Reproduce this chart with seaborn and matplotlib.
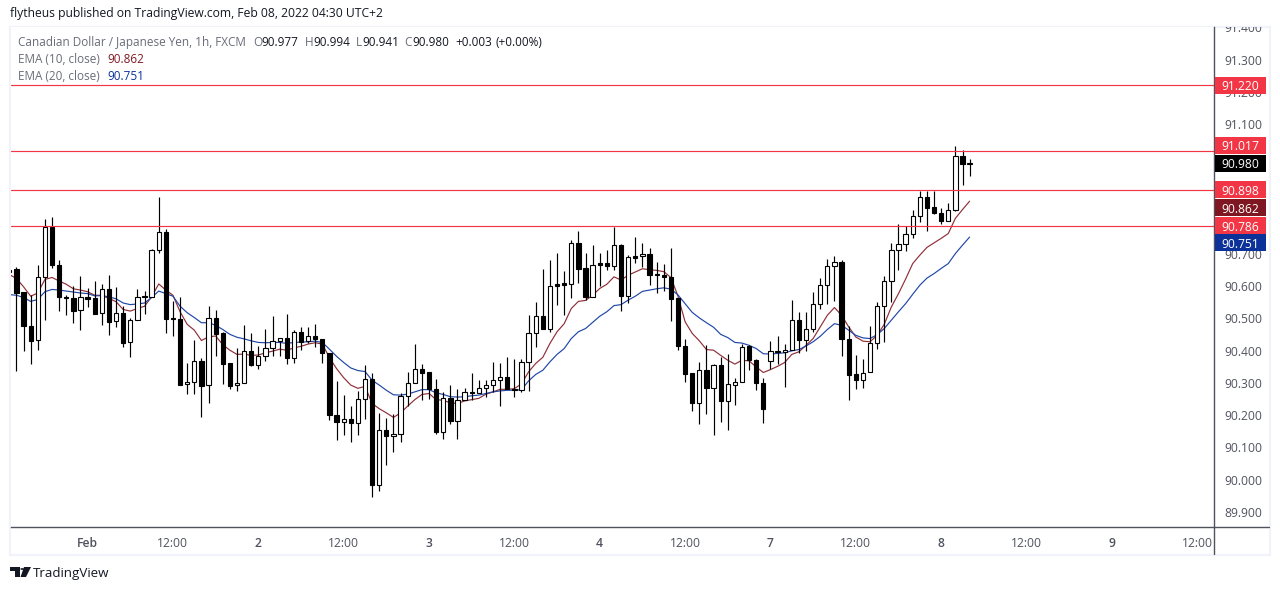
import matplotlib
matplotlib.use("Agg")
import matplotlib.pyplot as plt
import numpy as np
import pandas as pd
import seaborn as sns
from matplotlib.patches import Polygon, Rectangle
from matplotlib.transforms import Bbox, blended_transform_factory

# hourly candles, bar 0 is the "Feb" tick
first_bar = -11

opens = [
    90.643, 90.651, 90.580, 90.477, 90.431, 90.626, 90.783, 90.666, 90.567, 90.564, 90.524,
    90.567, 90.561, 90.515, 90.589, 90.490, 90.515, 90.425, 90.493, 90.568, 90.567, 90.710,
    90.768, 90.500, 90.499, 90.295, 90.304, 90.369, 90.292, 90.502, 90.454, 90.360, 90.292,
    90.301, 90.397, 90.356, 90.384, 90.409, 90.428, 90.440, 90.378, 90.456, 90.428, 90.446,
    90.437, 90.391, 90.202, 90.180, 90.189, 90.177, 90.251, 90.313, 89.985, 90.155, 90.137,
    90.143, 90.258, 90.301, 90.344, 90.332, 90.282, 90.149, 90.254, 90.182, 90.248, 90.273,
    90.270, 90.285, 90.292, 90.309, 90.319, 90.282, 90.278, 90.363, 90.453, 90.508, 90.467,
    90.605, 90.608, 90.607, 90.734, 90.654, 90.566, 90.670, 90.670, 90.663, 90.728, 90.569,
    90.691, 90.691, 90.700, 90.636, 90.635, 90.629, 90.561, 90.415, 90.329, 90.239, 90.341,
    90.285, 90.354, 90.245, 90.294, 90.303, 90.413, 90.372, 90.301, 90.369, 90.398, 90.396,
    90.403, 90.493, 90.431, 90.468, 90.545, 90.604, 90.660, 90.675, 90.437, 90.326, 90.309,
    90.332, 90.422, 90.539, 90.614, 90.710, 90.731, 90.762, 90.815, 90.874, 90.843, 90.827,
    90.802, 90.836, 91.001, 90.977,
]
highs = [
    90.655, 90.657, 90.580, 90.571, 90.664, 90.806, 90.812, 90.680, 90.571, 90.601, 90.630,
    90.593, 90.614, 90.605, 90.633, 90.595, 90.537, 90.502, 90.589, 90.583, 90.713, 90.874,
    90.775, 90.552, 90.566, 90.360, 90.431, 90.378, 90.539, 90.524, 90.456, 90.360, 90.409,
    90.478, 90.454, 90.415, 90.468, 90.506, 90.440, 90.512, 90.463, 90.474, 90.474, 90.481,
    90.437, 90.393, 90.305, 90.262, 90.228, 90.274, 90.355, 90.329, 90.208, 90.190, 90.205,
    90.267, 90.332, 90.419, 90.357, 90.332, 90.313, 90.272, 90.293, 90.280, 90.285, 90.329,
    90.308, 90.308, 90.363, 90.360, 90.379, 90.375, 90.375, 90.509, 90.549, 90.651, 90.680,
    90.701, 90.646, 90.742, 90.769, 90.701, 90.726, 90.701, 90.711, 90.783, 90.729, 90.695,
    90.750, 90.732, 90.716, 90.675, 90.667, 90.717, 90.564, 90.437, 90.331, 90.363, 90.416,
    90.358, 90.379, 90.388, 90.316, 90.420, 90.416, 90.373, 90.316, 90.429, 90.444, 90.420,
    90.556, 90.518, 90.518, 90.580, 90.623, 90.683, 90.692, 90.679, 90.475, 90.386, 90.375,
    90.475, 90.549, 90.630, 90.732, 90.791, 90.785, 90.834, 90.894, 90.894, 90.894, 90.840,
    90.855, 91.033, 91.020, 90.994,
]
lows = [
    90.640, 90.337, 90.399, 90.359, 90.401, 90.495, 90.656, 90.523, 90.510, 90.486, 90.464,
    90.534, 90.512, 90.479, 90.448, 90.473, 90.411, 90.380, 90.493, 90.513, 90.566, 90.702,
    90.455, 90.445, 90.294, 90.266, 90.266, 90.195, 90.238, 90.383, 90.297, 90.281, 90.275,
    90.298, 90.352, 90.342, 90.368, 90.384, 90.383, 90.359, 90.362, 90.402, 90.422, 90.411,
    90.362, 90.184, 90.123, 90.139, 90.117, 90.139, 90.188, 89.947, 89.965, 90.046, 90.086,
    90.117, 90.228, 90.298, 90.248, 90.250, 90.142, 90.126, 90.173, 90.126, 90.246, 90.246,
    90.267, 90.257, 90.271, 90.229, 90.280, 90.257, 90.272, 90.274, 90.411, 90.466, 90.458,
    90.540, 90.509, 90.563, 90.609, 90.556, 90.566, 90.599, 90.649, 90.649, 90.523, 90.548,
    90.671, 90.657, 90.603, 90.578, 90.583, 90.492, 90.403, 90.303, 90.213, 90.174, 90.204,
    90.138, 90.179, 90.155, 90.231, 90.303, 90.339, 90.277, 90.176, 90.344, 90.358, 90.287,
    90.403, 90.393, 90.399, 90.458, 90.528, 90.543, 90.554, 90.383, 90.248, 90.280, 90.284,
    90.332, 90.404, 90.427, 90.550, 90.649, 90.707, 90.749, 90.798, 90.770, 90.822, 90.793,
    90.801, 90.832, 90.913, 90.941,
]
closes = [
    90.650, 90.578, 90.476, 90.430, 90.626, 90.783, 90.665, 90.566, 90.563, 90.523, 90.567,
    90.560, 90.513, 90.589, 90.489, 90.515, 90.424, 90.493, 90.567, 90.566, 90.710, 90.768,
    90.498, 90.498, 90.294, 90.304, 90.369, 90.291, 90.502, 90.452, 90.359, 90.291, 90.301,
    90.397, 90.356, 90.384, 90.409, 90.428, 90.440, 90.377, 90.456, 90.427, 90.446, 90.436,
    90.391, 90.201, 90.179, 90.189, 90.176, 90.251, 90.313, 89.985, 90.155, 90.136, 90.143,
    90.258, 90.301, 90.344, 90.331, 90.280, 90.148, 90.254, 90.182, 90.248, 90.272, 90.269,
    90.285, 90.292, 90.310, 90.318, 90.280, 90.277, 90.363, 90.453, 90.508, 90.467, 90.601,
    90.600, 90.603, 90.733, 90.653, 90.566, 90.666, 90.665, 90.663, 90.728, 90.569, 90.688,
    90.687, 90.700, 90.634, 90.634, 90.628, 90.560, 90.414, 90.328, 90.238, 90.341, 90.284,
    90.354, 90.245, 90.295, 90.304, 90.412, 90.371, 90.300, 90.219, 90.397, 90.395, 90.403,
    90.493, 90.431, 90.468, 90.545, 90.604, 90.660, 90.675, 90.436, 90.325, 90.309, 90.331,
    90.422, 90.539, 90.614, 90.710, 90.731, 90.762, 90.815, 90.874, 90.842, 90.826, 90.802,
    90.836, 91.001, 90.976, 90.980,
]
ema_10 = [
    90.635, 90.623, 90.597, 90.568, 90.578, 90.620, 90.626, 90.615, 90.605, 90.591, 90.587,
    90.582, 90.571, 90.571, 90.561, 90.551, 90.527, 90.522, 90.530, 90.537, 90.566, 90.606,
    90.587, 90.571, 90.520, 90.481, 90.463, 90.431, 90.442, 90.445, 90.418, 90.401, 90.388,
    90.389, 90.385, 90.386, 90.393, 90.398, 90.404, 90.401, 90.408, 90.413, 90.420, 90.424,
    90.420, 90.378, 90.344, 90.316, 90.293, 90.283, 90.289, 90.236, 90.220, 90.207, 90.193,
    90.207, 90.228, 90.248, 90.264, 90.267, 90.248, 90.246, 90.238, 90.236, 90.244, 90.248,
    90.252, 90.265, 90.272, 90.280, 90.280, 90.282, 90.297, 90.334, 90.360, 90.379, 90.422,
    90.458, 90.483, 90.530, 90.552, 90.555, 90.571, 90.592, 90.605, 90.628, 90.618, 90.633,
    90.643, 90.653, 90.650, 90.648, 90.644, 90.626, 90.568, 90.489, 90.453, 90.430, 90.403,
    90.401, 90.385, 90.370, 90.358, 90.370, 90.368, 90.349, 90.332, 90.341, 90.351, 90.363,
    90.388, 90.396, 90.416, 90.437, 90.473, 90.509, 90.533, 90.509, 90.473, 90.442, 90.429,
    90.427, 90.447, 90.481, 90.535, 90.576, 90.621, 90.669, 90.695, 90.719, 90.733, 90.747,
    90.762, 90.809, 90.836, 90.862,
]
ema_20 = [
    90.573, 90.571, 90.564, 90.552, 90.558, 90.582, 90.589, 90.587, 90.584, 90.581, 90.578,
    90.576, 90.569, 90.570, 90.566, 90.560, 90.547, 90.542, 90.544, 90.547, 90.564, 90.584,
    90.576, 90.568, 90.537, 90.517, 90.502, 90.486, 90.486, 90.478, 90.465, 90.450, 90.441,
    90.436, 90.430, 90.425, 90.424, 90.425, 90.425, 90.422, 90.425, 90.426, 90.427, 90.429,
    90.425, 90.404, 90.382, 90.363, 90.346, 90.338, 90.335, 90.308, 90.293, 90.277, 90.263,
    90.262, 90.265, 90.272, 90.279, 90.279, 90.269, 90.264, 90.257, 90.256, 90.257, 90.260,
    90.262, 90.267, 90.272, 90.275, 90.277, 90.277, 90.279, 90.306, 90.326, 90.339, 90.365,
    90.388, 90.406, 90.437, 90.458, 90.468, 90.487, 90.506, 90.520, 90.539, 90.542, 90.556,
    90.568, 90.583, 90.587, 90.591, 90.594, 90.590, 90.572, 90.545, 90.518, 90.501, 90.486,
    90.472, 90.450, 90.440, 90.425, 90.423, 90.416, 90.406, 90.390, 90.389, 90.391, 90.393,
    90.399, 90.403, 90.414, 90.427, 90.444, 90.465, 90.483, 90.478, 90.463, 90.447, 90.439,
    90.437, 90.449, 90.468, 90.494, 90.520, 90.545, 90.574, 90.602, 90.624, 90.638, 90.654,
    90.669, 90.700, 90.726, 90.751,
]

# 90.800, 90.900 and 91.000 sit fully behind the badges, so they are left out
price_ticks = [89.9, 90.0, 90.1, 90.2, 90.3, 90.4, 90.5, 90.6, 90.7, 91.1, 91.2, 91.3, 91.4]
time_ticks = [0, 12, 24, 36, 48, 60, 72, 84, 96, 108, 120, 132, 144, 156]
time_labels = ["Feb", "12:00", "2", "12:00", "3", "12:00", "4", "12:00", "7", "12:00", "8", "12:00", "9", "12:00"]
level_prices = [91.220, 91.017, 90.898, 90.786]

W, H = 1280, 590
RED = "#f23645"
EMA10_COLOR = "#801922"
EMA20_COLOR = "#0c3299"
AXIS_COLOR = "#50535e"
FRAME_COLOR = "#f0f3fa"
TEXT_COLOR = "#6a6d78"

sns.set_theme(style="white", font="Open Sans")
plt.rcParams["font.size"] = 9

fig = plt.figure(figsize=(W / 100, H / 100), dpi=100, facecolor="white")


def fx(px):
    return px / W


def fy(py):
    return 1 - py / H


ax = fig.add_axes([fx(10.5), fy(527.3), fx(1214.3 - 10.5), (527.3 - 27) / H])
ax.set_xlim(-10.84, 158.4)
ax.set_ylim(89.853, 91.401)

df = pd.DataFrame(
    {"open": opens, "high": highs, "low": lows, "close": closes, "ema_10": ema_10, "ema_20": ema_20}
)
df["bar"] = np.arange(first_bar, first_bar + len(df))

# moving averages go under the candles
sns.lineplot(data=df, x="bar", y="ema_10", color="#8f2f38", lw=0.85, ax=ax, zorder=2, errorbar=None)
sns.lineplot(data=df, x="bar", y="ema_20", color="#2047a8", lw=0.85, ax=ax, zorder=2, errorbar=None)

ax.vlines(df["bar"], df["low"], df["high"], color="black", lw=0.85, zorder=3)
body_bottom = df[["open", "close"]].min(axis=1)
body_height = (df["close"] - df["open"]).abs()
body_colors = ["white" if c >= o else "black" for o, c in zip(df["open"], df["close"])]
ax.bar(df["bar"], body_height, bottom=body_bottom, width=0.6, color=body_colors,
       edgecolor="black", linewidth=0.8, zorder=4)

for level in level_prices:
    ax.axhline(level, color=RED, lw=0.85, zorder=5)

ax.set_xlabel("")
ax.set_ylabel("")
ax.yaxis.tick_right()
ax.set_yticks(price_ticks)
ax.set_yticklabels([f"{p:.3f}" for p in price_ticks])
ax.set_xticks(time_ticks)
ax.set_xticklabels(time_labels)
ax.tick_params(axis="y", length=0, pad=7.5, labelsize=8.7, labelcolor=AXIS_COLOR)
ax.tick_params(axis="x", length=0, pad=7, labelsize=8.7, labelcolor=AXIS_COLOR)

# the top price label is cut by the panel edge
panel_box = Bbox.from_extents(0, H - 555, W, H - 27)
for label in ax.get_yticklabels():
    label.set_clip_box(panel_box)
    label.set_clip_on(True)
for label, text in zip(ax.get_xticklabels(), time_labels):
    if ":" not in text:
        label.set_fontweight("semibold")

for side in ["top", "left"]:
    ax.spines[side].set_visible(False)
ax.spines["bottom"].set_color(AXIS_COLOR)
ax.spines["right"].set_color(AXIS_COLOR)
ax.spines["bottom"].set_linewidth(1)
ax.spines["right"].set_linewidth(1)

# axis lines run on past the plot area
fig.add_artist(plt.Line2D([fx(1214.3), fx(1214.3)], [fy(527.3), fy(554)], color=AXIS_COLOR, lw=1))
fig.add_artist(plt.Line2D([fx(1214.3), fx(1269)], [fy(527.3), fy(527.3)], color=AXIS_COLOR, lw=1))

# light panel frame
fig.add_artist(Rectangle((fx(10), fy(555)), fx(1260), (555 - 27) / H, fill=False,
                         edgecolor=FRAME_COLOR, lw=1.6, transform=fig.transFigure, zorder=0))

# price badges on the axis
badge_tf = blended_transform_factory(ax.transAxes, ax.transData)
badge_w = (1266 - 1214.8) / (1214.3 - 10.5)
badge_h = 17 / 323
badges = [
    (91.220, "91.220", RED),
    (91.035, "91.017", RED),
    (90.980, "90.980", "black"),
    (90.898, "90.898", RED),
    (90.842, "90.862", "#7f1722"),
    (90.786, "90.786", RED),
    (90.733, "90.751", EMA20_COLOR),
]
for price, text, color in badges:
    ax.add_patch(Rectangle((1.0005, price - badge_h / 2), badge_w, badge_h, facecolor=color,
                           edgecolor="none", transform=badge_tf, clip_on=False, zorder=6))
    ax.text(1.0005 + badge_w / 2, price, text, color="white", fontsize=8.7, ha="center", va="center_baseline",
            transform=badge_tf, clip_on=False, zorder=7)

# header and legend text
fig.text(fx(10), fy(14), "flytheus published on TradingView.com, Feb 08, 2022 04:30 UTC+2",
         color="#131722", fontsize=8.7, va="center")
legend_y = fy(42.5)
fig.text(fx(18), legend_y, "Canadian Dollar / Japanese Yen, 1h, FXCM", color=TEXT_COLOR, fontsize=8.5, va="center")
ohlc_parts = [
    (253, "O", TEXT_COLOR), (261, "90.977", "#131722"),
    (305, "H", TEXT_COLOR), (313, "90.994", "#131722"),
    (356, "L", TEXT_COLOR), (362, "90.941", "#131722"),
    (404, "C", TEXT_COLOR), (412, "90.980", "#131722"),
    (455, "+0.003", "#131722"), (495, "(+0.00%)", "#131722"),
]
for px, text, color in ohlc_parts:
    fig.text(fx(px), legend_y, text, color=color, fontsize=8.5, va="center")
fig.text(fx(18), fy(59.5), "EMA (10, close)", color=TEXT_COLOR, fontsize=8.5, va="center")
fig.text(fx(107), fy(59.5), "90.862", color=EMA10_COLOR, fontsize=8.5, va="center")
fig.text(fx(18), fy(76.5), "EMA (20, close)", color=TEXT_COLOR, fontsize=8.5, va="center")
fig.text(fx(107), fy(76.5), "90.751", color=EMA20_COLOR, fontsize=8.5, va="center")

# TradingView logo
logo_shapes = [
    [(10, 567), (20, 567), (20, 577), (15, 577), (15, 571), (10, 571)],
    [(24, 567), (31, 567), (26, 577), (20.5, 577)],
]
for shape in logo_shapes:
    fig.add_artist(Polygon([(fx(x), fy(y)) for x, y in shape], closed=True, facecolor="#131722",
                           edgecolor="none", transform=fig.transFigure))
fig.add_artist(plt.Circle((fx(22.2), fy(569)), 1.9 / W, facecolor="#131722", edgecolor="none",
                          transform=fig.transFigure))
fig.text(fx(33), fy(573), "TradingView", color="#131722", fontsize=9.6, va="center")

fig.savefig("out.png", dpi=100)
